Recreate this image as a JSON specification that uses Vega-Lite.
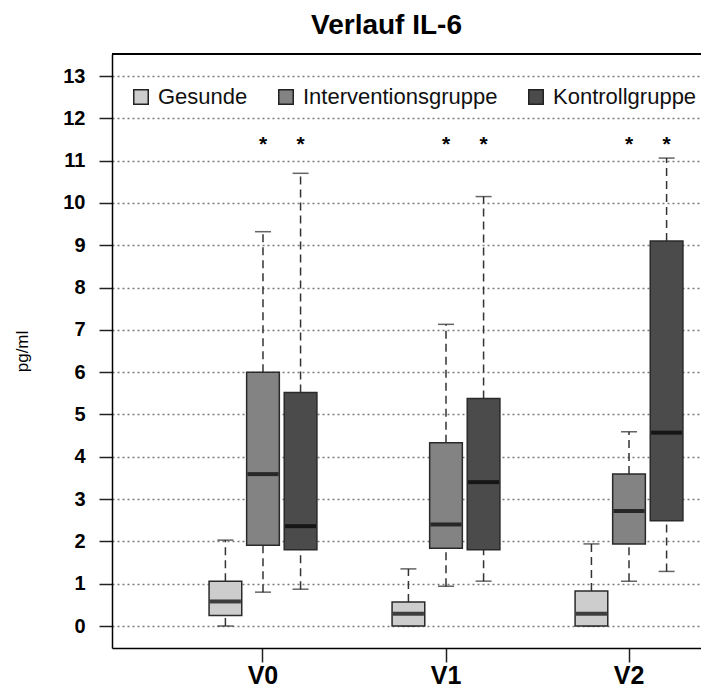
{
  "$schema": "https://vega.github.io/schema/vega-lite/v6.json",
  "autosize": "none",
  "width": 589,
  "height": 594,
  "padding": {"left": 112, "top": 54, "right": 0, "bottom": 41},
  "background": "white",
  "config": {
    "view": {"stroke": null},
    "font": "Liberation Sans"
  },
  "title": {
    "text": "Verlauf IL-6",
    "font": "Liberation Sans",
    "fontSize": 28,
    "fontWeight": "bold",
    "color": "black",
    "anchor": "middle",
    "dx": -20,
    "offset": 13
  },
  "data": {
    "values": [
      {"zeit": "V0", "gruppe": "Gesunde", "min": 0.0, "q1": 0.25, "median": 0.58, "q3": 1.06, "max": 2.03, "sig": ""},
      {"zeit": "V0", "gruppe": "Interventionsgruppe", "min": 0.8, "q1": 1.91, "median": 3.59, "q3": 6.0, "max": 9.32, "sig": "*"},
      {"zeit": "V0", "gruppe": "Kontrollgruppe", "min": 0.87, "q1": 1.8, "median": 2.36, "q3": 5.52, "max": 10.7, "sig": "*"},
      {"zeit": "V1", "gruppe": "Gesunde", "min": 0.0, "q1": 0.0, "median": 0.29, "q3": 0.57, "max": 1.35, "sig": ""},
      {"zeit": "V1", "gruppe": "Interventionsgruppe", "min": 0.94, "q1": 1.84, "median": 2.4, "q3": 4.33, "max": 7.13, "sig": "*"},
      {"zeit": "V1", "gruppe": "Kontrollgruppe", "min": 1.06, "q1": 1.8, "median": 3.4, "q3": 5.38, "max": 10.15, "sig": "*"},
      {"zeit": "V2", "gruppe": "Gesunde", "min": 0.0, "q1": 0.0, "median": 0.29, "q3": 0.83, "max": 1.94, "sig": ""},
      {"zeit": "V2", "gruppe": "Interventionsgruppe", "min": 1.06, "q1": 1.94, "median": 2.72, "q3": 3.59, "max": 4.59, "sig": "*"},
      {"zeit": "V2", "gruppe": "Kontrollgruppe", "min": 1.29, "q1": 2.49, "median": 4.57, "q3": 9.1, "max": 11.06, "sig": "*"}
    ]
  },
  "layer": [
    {
      "mark": {"type": "rule", "color": "black", "strokeWidth": 1.5},
      "encoding": {
        "y": {
          "datum": 13.52,
          "type": "quantitative",
          "scale": {"domain": [-0.52, 13.52], "nice": false, "zero": false},
          "title": "pg/ml",
          "axis": {
            "values": [0, 1, 2, 3, 4, 5, 6, 7, 8, 9, 10, 11, 12, 13],
            "domainColor": "black",
            "domainWidth": 1.5,
            "tickColor": "#222",
            "tickWidth": 1.5,
            "tickSize": 13,
            "labelFont": "Liberation Sans",
            "labelFontSize": 20,
            "labelFontWeight": "bold",
            "labelColor": "black",
            "labelPadding": 14,
            "grid": true,
            "gridColor": "#7a7a7a",
            "gridDash": [2, 3],
            "gridWidth": 1.3,
            "titleFont": "Liberation Sans",
            "titleFontSize": 17,
            "titleFontWeight": "normal",
            "titleColor": "black",
            "titleX": -85,
            "titleBaseline": "alphabetic"
          }
        }
      }
    },
    {
      "encoding": {
        "x": {
          "field": "zeit",
          "type": "nominal",
          "title": null,
          "scale": {"range": [0, 668], "paddingInner": 0, "paddingOuter": 0.325},
          "axis": {
            "bandPosition": 0.5,
            "domainColor": "black",
            "domainWidth": 1.5,
            "tickColor": "#222",
            "tickWidth": 1.5,
            "tickSize": 14,
            "labelFont": "Liberation Sans",
            "labelFontSize": 25,
            "labelFontWeight": "bold",
            "labelColor": "black",
            "labelPadding": 1,
            "labelAngle": 0,
            "grid": false
          }
        },
        "xOffset": {
          "field": "gruppe",
          "type": "nominal",
          "scale": {"paddingInner": 0.13, "paddingOuter": 1.1425}
        }
      },
      "layer": [
        {
          "mark": {"type": "rule", "color": "#333", "strokeWidth": 1.5, "strokeDash": [8, 5]},
          "encoding": {
            "y": {"field": "q3", "type": "quantitative", "title": "pg/ml"},
            "y2": {"field": "max"}
          }
        },
        {
          "mark": {"type": "rule", "color": "#333", "strokeWidth": 1.5, "strokeDash": [8, 5]},
          "encoding": {
            "y": {"field": "min", "type": "quantitative", "title": "pg/ml"},
            "y2": {"field": "q1"}
          }
        },
        {
          "mark": {"type": "tick", "color": "#222", "size": 16, "thickness": 1.5, "orient": "horizontal"},
          "encoding": {"y": {"field": "max", "type": "quantitative", "title": "pg/ml"}}
        },
        {
          "mark": {"type": "tick", "color": "#222", "size": 16, "thickness": 1.5, "orient": "horizontal"},
          "encoding": {"y": {"field": "min", "type": "quantitative", "title": "pg/ml"}}
        },
        {
          "mark": {"type": "bar", "stroke": "#2a2a2a", "strokeWidth": 1.5},
          "encoding": {
            "y": {"field": "q1", "type": "quantitative", "title": "pg/ml"},
            "y2": {"field": "q3"},
            "fill": {
              "field": "gruppe",
              "type": "nominal",
              "scale": {
                "domain": ["Gesunde", "Interventionsgruppe", "Kontrollgruppe"],
                "range": ["#cdcdcd", "#838383", "#4b4b4b"]
              },
              "legend": {
                "title": null,
                "orient": "none",
                "direction": "horizontal",
                "columns": 3,
                "legendX": 18,
                "legendY": 32,
                "padding": 0,
                "columnPadding": 27,
                "symbolType": "square",
                "symbolSize": 210,
                "symbolStrokeColor": "#222",
                "symbolStrokeWidth": 1.5,
                "symbolOpacity": 1,
                "labelFont": "Liberation Sans",
                "labelFontSize": 22,
                "labelColor": "#111",
                "labelOffset": 6,
                "labelLimit": 400
              }
            }
          }
        },
        {
          "mark": {"type": "tick", "color": "black", "size": 31, "thickness": 4, "orient": "horizontal"},
          "encoding": {"y": {"field": "median", "type": "quantitative", "title": "pg/ml"}}
        },
        {
          "mark": {"type": "text", "font": "Liberation Sans", "fontSize": 21, "fontWeight": "bold", "color": "black", "baseline": "alphabetic", "dy": 9},
          "encoding": {
            "y": {"datum": 11.45, "type": "quantitative", "title": "pg/ml"},
            "text": {"field": "sig"}
          }
        }
      ]
    }
  ]
}
